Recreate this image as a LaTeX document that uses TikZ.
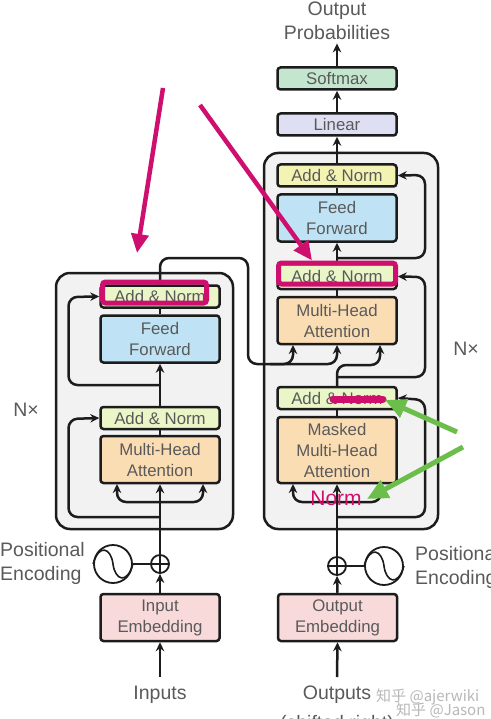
\documentclass[tikz,border=0pt]{standalone}
\usepackage{fontspec}
\setmainfont{Liberation Sans}
\newfontfamily\cjkfont{Noto Sans CJK SC}
\usetikzlibrary{arrows.meta}
\definecolor{ink}{HTML}{1C1C1C}
\definecolor{txt}{HTML}{5A5A5A}
\definecolor{magentaA}{HTML}{CE0F6E}
\definecolor{greenA}{HTML}{6CBE4B}
\definecolor{cAddY}{HTML}{F3F3B4}
\definecolor{cAddG}{HTML}{EAF5C8}
\definecolor{cFeed}{HTML}{BFE3F5}
\definecolor{cAttn}{HTML}{FBDDB4}
\definecolor{cSoft}{HTML}{C4E6CE}
\definecolor{cLin}{HTML}{DEDFF2}
\definecolor{cEmb}{HTML}{F9DADB}
\tikzset{
  x=1pt,y=-1pt,
  blk/.style={draw=ink,line width=2.5pt,rounded corners=3pt,minimum width=119pt,inner sep=0pt,align=center,text=txt,font=\fontsize{16.8}{21}\selectfont},
  addn/.style={blk,fill=#1,minimum height=22pt},
  big/.style={blk,fill=#1,minimum height=47pt},
  outerbox/.style={draw=ink,line width=2.5pt,fill=black!5,rounded corners=14pt,inner sep=0pt},
  conn/.style={draw=ink,line width=2.5pt,rounded corners=9pt},
  arr/.style={conn,-{Stealth[length=9pt,width=8.5pt]}},
  lab/.style={text=txt,align=center,font=\fontsize{19.5}{24}\selectfont},
  wave/.style={circle,draw=ink,line width=1.8pt,fill=white,minimum size=38pt,inner sep=0pt},
  addop/.style={circle,draw=ink,line width=1.8pt,fill=white,minimum size=18pt,inner sep=0pt},
  hlbox/.style={draw=magentaA,line width=5pt,rounded corners=3pt,minimum height=21pt,inner sep=0pt},
  hlarrow/.style={draw=magentaA,line width=4.5pt,-{Triangle[length=19pt,width=17pt]}},
  grarrow/.style={draw=greenA,line width=5pt,-{Triangle[length=21pt,width=19pt]}},
  wm/.style={text=black!28,font=\cjkfont\fontsize{15}{16}\selectfont}
}
\begin{document}
\begin{tikzpicture}
\useasboundingbox (0,0) rectangle (490,719);
\fill[white] (0,0) rectangle (490,719);
% frames
\node[outerbox,minimum width=177pt,minimum height=256pt] (encframe) at (144.5,401) {};
\node[outerbox,minimum width=174pt,minimum height=376pt] (decframe) at (351,341) {};
% labels and free ends
\node[lab] (outprob) at (337,21) {Output\\Probabilities};
\node[lab] (inlab) at (160,695) {Inputs};
\node[lab] (outlab) at (337,695) {Outputs};
\node[lab] (shift) at (337,724) {(shifted right)};
\node[lab,align=left,anchor=west,inner sep=0pt] (pel) at (0,563) {Positional\\Encoding};
\node[lab,align=left,anchor=west,inner sep=0pt] (per) at (415,567) {Positional\\Encoding};
\node[lab] (nl) at (26,410) {N\texttimes};
\node[lab] (nr) at (466,349) {N\texttimes};
\coordinate (inbot) at (160,677);
\coordinate (outbot) at (337,677);
% branch points
\coordinate (e1) at (160,517);
\coordinate (e2) at (160,385);
\coordinate (d1) at (337,517);
\coordinate (d2) at (337,377);
\coordinate (d3) at (337,258);
\coordinate (eloop) at (160,502);
\coordinate (dloop) at (337,502);
% blocks
\node[big=cEmb] (inemb) at (160,617.5) {Input\\Embedding};
\node[big=cEmb] (outemb) at (337.5,617.5) {Output\\Embedding};
\node[big=cAttn] (emha) at (160,459.5) {Multi-Head\\Attention};
\node[addn=cAddG] (ean1) at (160,418) {Add \& Norm};
\node[big=cFeed] (eff) at (160,339) {Feed\\Forward};
\node[addn=cAddG] (ean2) at (160,296.5) {Add \& Norm};
\node[blk,fill=cAttn,minimum height=66pt] (dmha1) at (337,450) {Masked\\Multi-Head\\Attention};
\node[addn=cAddG] (dan1) at (337,398) {Add \& Norm};
\node[big=cAttn] (dmha2) at (337,320.5) {Multi-Head\\Attention};
\node[addn=cAddG,minimum height=25pt] (dan2) at (337,276.5) {\raisebox{-3pt}{Add \& Norm}};
\node[big=cFeed] (dff) at (337,218) {Feed\\Forward};
\node[addn=cAddY] (dan3) at (337,175.5) {Add \& Norm};
\node[blk,fill=cLin,minimum height=22pt] (lin) at (337,124.5) {Linear};
\node[blk,fill=cSoft,minimum height=22pt] (soft) at (337,78.5) {Softmax};
\node[addop] (epl) at (160,564) {};
\node[addop] (dpl) at (337,566) {};
\node[wave] (ew) at (113,564) {};
\node[wave] (dw) at (384,566) {};
% symbols in circles
\draw[ink,line width=1.4pt] (epl.north) -- (epl.south) (epl.west) -- (epl.east);
\draw[ink,line width=1.4pt] (dpl.north) -- (dpl.south) (dpl.west) -- (dpl.east);
\draw[ink,line width=1.6pt] (ew.west) .. controls (99,543) and (111,548) .. (113,564) .. controls (115,580) and (127,585) .. (ew.east);
\draw[ink,line width=1.6pt] (dw.west) .. controls (370,545) and (382,550) .. (384,566) .. controls (386,582) and (398,587) .. (dw.east);
% encoder connectors
\draw[arr] (inbot) -- (inemb.south);
\draw[arr] (inemb.north) -- (epl.south);
\draw[conn] (ew.east) -- (epl.west);
\draw[arr] (epl.north) -- (emha.south);
\draw[arr] (eloop) -| (117,484);
\draw[arr] (eloop) -| (203,484);
\draw[arr] (e1) -| (68.5,419) -- (ean1.west);
\draw[conn] (emha.north) -- (ean1.south);
\draw[arr] (ean1.north) -- (eff.south);
\draw[arr] (e2) -| (68.5,297) -- (ean2.west);
\draw[conn] (eff.north) -- (ean2.south);
% cross connection
\draw[arr] (ean2.north) |- (248,258) |- (293,364) -- (293,345);
\draw[arr] (270,364) -| (337,345);
% decoder connectors
\draw[arr] (outbot) -- (outemb.south);
\draw[arr] (outemb.north) -- (dpl.south);
\draw[conn] (dw.west) -- (dpl.east);
\draw[arr] (dpl.north) -- (dmha1.south);
\draw[arr] (dloop) -| (293,484);
\draw[arr] (dloop) -| (381,484);
\draw[arr] (d1) -| (425,400) -- (dan1.east);
\draw[conn] (dmha1.north) -- (dan1.south);
\draw[arr] (dan1.north) |- (380,365) -- (380,345);
\draw[arr] (d2) -| (425,277) -- (dan2.east);
\draw[conn] (dmha2.north) -- (dan2.south);
\draw[arr] (dan2.north) -- (dff.south);
\draw[arr] (d3) -| (425,175) -- (dan3.east);
\draw[conn] (dff.north) -- (dan3.south);
\draw[arr] (dan3.north) -- (lin.south);
\draw[arr] (lin.north) -- (soft.south);
\draw[arr] (soft.north) -- (outprob.south);
% annotations
\node[hlbox,minimum width=104pt] (hl1) at (154.5,292.5) {};
\node[hlbox,minimum width=117pt] (hl2) at (337,273.5) {};
\coordinate (pa1) at (163,88);
\coordinate (pa2) at (200,105);
\draw[hlarrow] (pa1) -- (137,253);
\draw[hlarrow] (pa2) -- (hl2.north west -| 312,264);
\coordinate (bar1) at (333,399);
\coordinate (bar2) at (383,399);
\draw[magentaA,line width=7pt,line cap=round] (bar1) -- (bar2);
\node[text=magentaA,font=\fontsize{21}{22}\selectfont,inner sep=0pt] (nm) at (336,498) {Norm};
\coordinate (ga1) at (457,432);
\coordinate (ga2) at (463,447);
\draw[grarrow] (ga1) -- (385,400);
\draw[grarrow] (ga2) -- (367,499);
% watermarks
\node[wm,anchor=west,inner sep=0pt] (w1) at (376,697) {知乎 @ajerwiki};
\node[wm,anchor=west,inner sep=0pt] (w2) at (396,710) {知乎 @Jason};
\end{tikzpicture}
\end{document}
